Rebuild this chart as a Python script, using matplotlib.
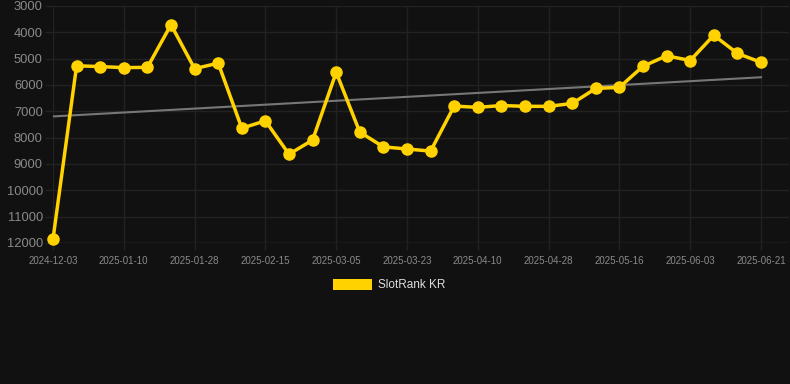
import numpy as np
import matplotlib.pyplot as plt
from datetime import date, timedelta

plt.rcParams['font.family'] = ['Liberation Sans', 'DejaVu Sans']

# weekly-ish snapshots; first point is an earlier one-off
start = date(2025, 1, 10)
dates = ["2024-12-03"] + [(start + timedelta(days=6 * (i - 3))).isoformat() for i in range(1, 31)]
ranks = [11850, 5270, 5300, 5340, 5330, 3710, 5380, 5170, 7640, 7360,
         8630, 8090, 5520, 7790, 8350, 8430, 8510, 6800, 6850, 6780,
         6810, 6810, 6700, 6130, 6090, 5290, 4890, 5070, 4110, 4800, 5140]
series_name = "SlotRank KR"

bg = "#111111"
gold = "#ffd200"
grid = "#222222"

fig = plt.figure(figsize=(7.9, 3.84), dpi=100, facecolor=bg)
# plot area runs to the right edge; last point sits at x=761
ax = fig.add_axes([53 / 790, 1 - 243 / 384, (789 - 53) / 790, (243 - 6) / 384], facecolor=bg)

x = np.arange(len(ranks))
ax.plot(x, ranks, color=gold, lw=2.5, marker="o", ms=8, zorder=3, clip_on=False)

# linear trend of the series
k, b = np.polyfit(x, ranks, 1)
ax.plot(x[[0, -1]], k * x[[0, -1]] + b, color="#777777", lw=1.5, zorder=2)

step = (761 - 53) / (len(ranks) - 1)
ax.set_xlim(0, (789 - 53) / step)
ax.set_ylim(12000, 3000)
ax.set_yticks(np.arange(3000, 12001, 1000))
ax.set_xticks(x[::3])
ax.set_xticklabels([dates[i] for i in x[::3]])
ax.grid(True, color=grid, lw=1)
ax.set_axisbelow(True)
for s in ax.spines.values():
    s.set_visible(False)
ax.tick_params(axis="y", colors=grid, labelcolor="#8a8a8a", labelsize=9.3, length=5.8, width=1, pad=1.5)
ax.tick_params(axis="x", colors=grid, labelcolor="#8a8a8a", labelsize=7, length=5, width=1, pad=4.5)
ax.axhline(12000, color="#2e2e2e", lw=1)

fig.patches.append(plt.Rectangle((333 / 790, 1 - 290 / 384), 39 / 790, 11 / 384,
                                 transform=fig.transFigure, facecolor=gold, edgecolor="none"))
fig.text(378 / 790, 1 - 285 / 384, series_name, color="#dddddd", fontsize=8.5, va="center", ha="left")

fig.savefig("out.png", dpi=100, facecolor=bg)
